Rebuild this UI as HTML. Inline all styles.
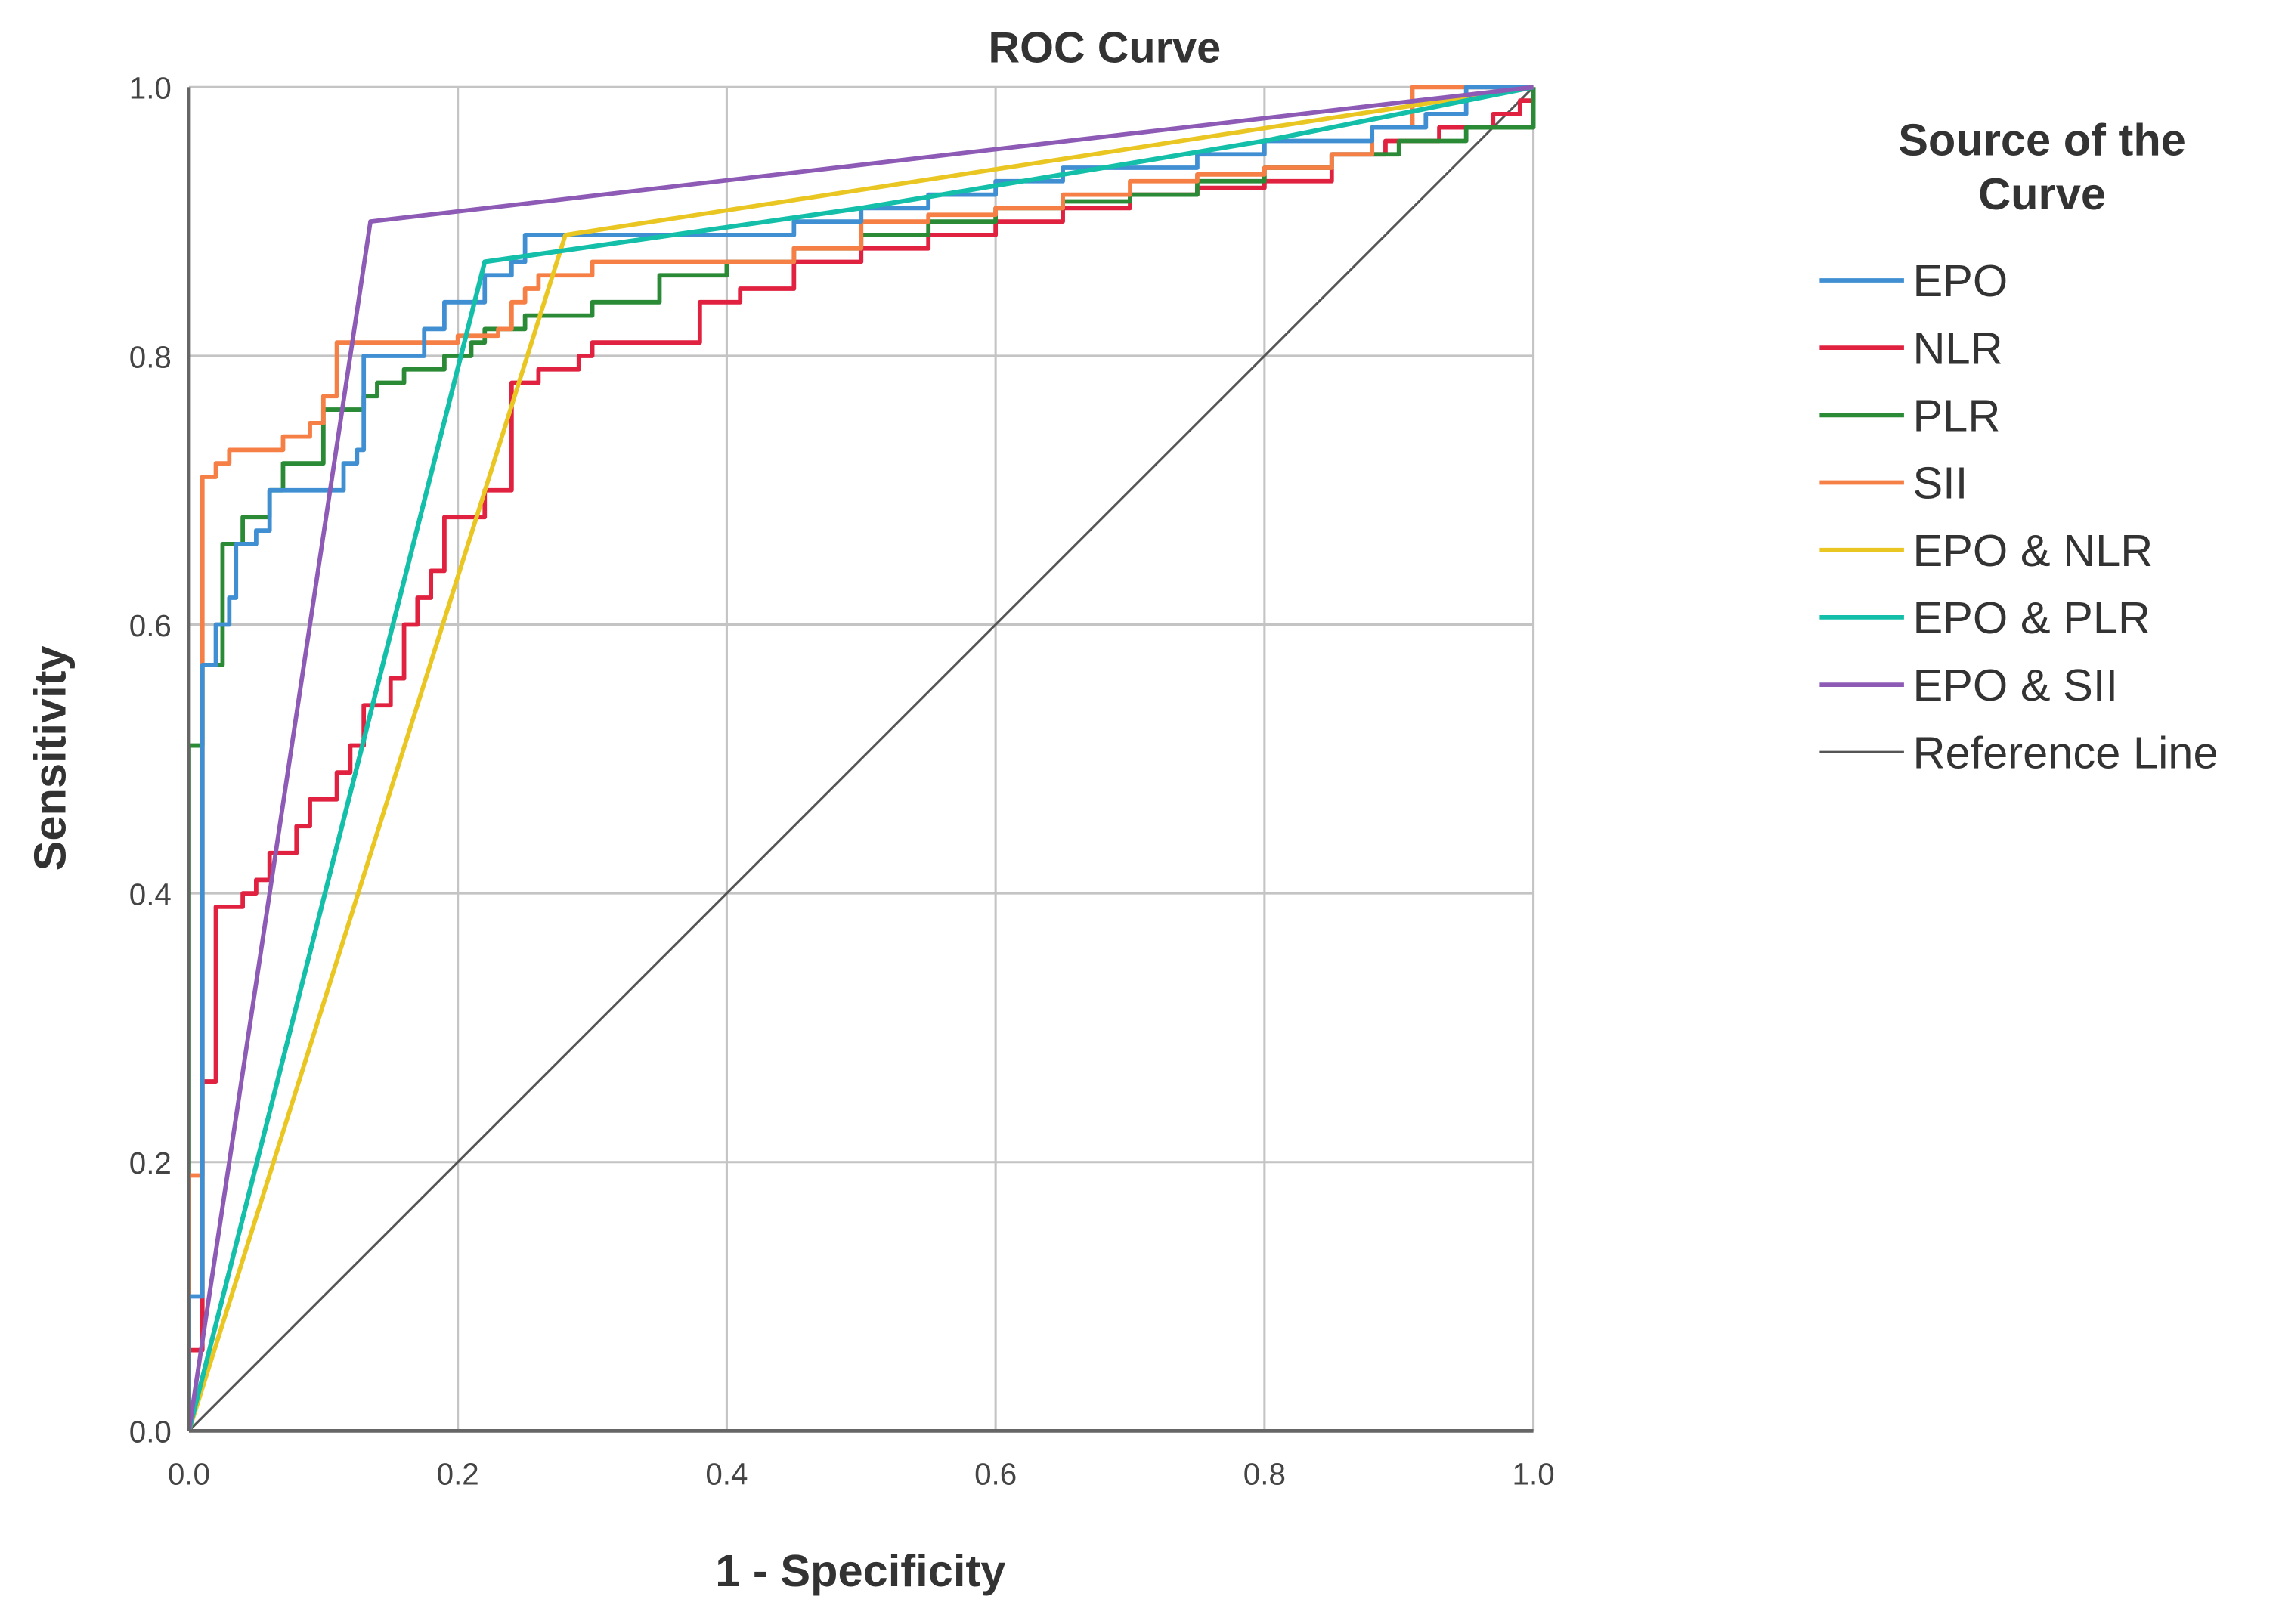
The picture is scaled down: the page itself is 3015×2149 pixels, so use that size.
<!DOCTYPE html>
<html><head><meta charset="utf-8"><style>
html,body{margin:0;padding:0;background:#fff;}
svg{display:block;font-family:"Liberation Sans",sans-serif;}
</style></head><body>
<svg id="chart" width="3015" height="2149" viewBox="0 0 1568 1118" preserveAspectRatio="none" xmlns="http://www.w3.org/2000/svg">
<text x="760" y="43" text-anchor="middle" font-size="30" font-weight="bold" fill="#333">ROC Curve</text>
<g id="grid"></g>
<g id="series"></g>
<g id="axes"></g>
<text transform="translate(45,522) rotate(-90)" text-anchor="middle" font-size="31" font-weight="bold" fill="#333">Sensitivity</text>
<text x="592" y="1092" text-anchor="middle" font-size="31" font-weight="bold" fill="#333">1 - Specificity</text>
<g id="legend">
<text x="1405" y="107" text-anchor="middle" font-size="31" font-weight="bold" fill="#333">Source of the</text>
<text x="1405" y="144" text-anchor="middle" font-size="31" font-weight="bold" fill="#333">Curve</text>
</g>
</svg>
<script>
const ticks = [0, 0.2, 0.4, 0.6, 0.8, 1.0];
const tickLabels = ["0.0","0.2","0.4","0.6","0.8","1.0"];
const seriesNames = ["EPO","NLR","PLR","SII","EPO & NLR","EPO & PLR","EPO & SII","Reference Line"];
const seriesColors = ["#3f8fd2","#e0213f","#2a8a35","#f57f45","#e9c621","#13bfa8","#8d5bb5","#555555"];
const epoX = [0,0,0.01,0.02,0.03,0.035,0.05,0.06,0.11,0.115,0.125,0.13,0.16,0.175,0.19,0.21,0.22,0.24,0.25,0.4,0.45,0.5,0.55,0.6,0.65,0.7,0.75,0.8,0.84,0.88,0.92,0.95,1];
const epoY = [0,0.1,0.57,0.6,0.62,0.66,0.67,0.7,0.7,0.72,0.73,0.8,0.8,0.82,0.84,0.84,0.86,0.87,0.89,0.89,0.9,0.91,0.92,0.93,0.94,0.94,0.95,0.96,0.96,0.97,0.98,1,1];
const nlrX = [0,0,0.01,0.01,0.02,0.02,0.04,0.05,0.06,0.08,0.09,0.11,0.12,0.13,0.15,0.16,0.17,0.18,0.19,0.21,0.22,0.24,0.26,0.29,0.3,0.38,0.38,0.41,0.45,0.5,0.55,0.6,0.65,0.7,0.75,0.8,0.85,0.89,0.93,0.97,0.99,1];
const nlrY = [0,0.06,0.06,0.26,0.26,0.39,0.4,0.41,0.43,0.45,0.47,0.49,0.51,0.54,0.56,0.6,0.62,0.64,0.68,0.68,0.7,0.78,0.79,0.8,0.81,0.81,0.84,0.85,0.87,0.88,0.89,0.9,0.91,0.92,0.925,0.93,0.95,0.96,0.97,0.98,0.99,1];
const plrX = [0,0,0.01,0.01,0.025,0.025,0.04,0.06,0.07,0.1,0.1,0.13,0.14,0.16,0.19,0.21,0.22,0.25,0.3,0.35,0.4,0.45,0.5,0.55,0.6,0.65,0.7,0.75,0.8,0.85,0.9,0.95,1];
const plrY = [0,0.51,0.51,0.57,0.57,0.66,0.68,0.7,0.72,0.73,0.76,0.77,0.78,0.79,0.8,0.81,0.82,0.83,0.84,0.86,0.87,0.88,0.89,0.9,0.91,0.915,0.92,0.93,0.94,0.95,0.96,0.97,1];
const siiX = [0,0,0.01,0.01,0.02,0.03,0.07,0.09,0.1,0.11,0.2,0.23,0.24,0.25,0.26,0.3,0.3,0.45,0.5,0.55,0.6,0.65,0.7,0.75,0.8,0.85,0.88,0.91,1];
const siiY = [0,0.19,0.57,0.71,0.72,0.73,0.74,0.75,0.77,0.81,0.815,0.82,0.84,0.85,0.86,0.86,0.87,0.88,0.9,0.905,0.91,0.92,0.93,0.935,0.94,0.95,0.97,1,1];
const epoNlrX = [0,0.28,1];
const epoNlrY = [0,0.89,1];
const epoPlrX = [0,0.22,0.5,0.8,1];
const epoPlrY = [0,0.87,0.91,0.96,1];
const epoSiiX = [0,0.135,1];
const epoSiiY = [0,0.9,1];
const refX = [0,1];
const refY = [0,1];

const X0=130, X1=1055, Y0=985, Y1=60;
const sx = v => X0 + v*(X1-X0);
const sy = v => Y0 - v*(Y0-Y1);
const NS="http://www.w3.org/2000/svg";
function mk(tag, attrs, parent){const e=document.createElementNS(NS,tag);for(const k in attrs)e.setAttribute(k,attrs[k]);parent.appendChild(e);return e;}

const grid=document.getElementById('grid');
const axes=document.getElementById('axes');
ticks.forEach((t,i)=>{
  const v=mk('line',{x1:sx(t),x2:sx(t),y1:Y1,y2:Y0,stroke:'#c4c4c4','stroke-width':1.6},grid);
  
  
  const h=mk('line',{x1:X0,x2:X1,y1:sy(t),y2:sy(t),stroke:'#c4c4c4','stroke-width':1.6},grid);
  
  
  const xl=mk('text',{x:sx(t),y:1022,'text-anchor':'middle','font-size':21,fill:'#444'},axes);
  xl.textContent=tickLabels[i];
  
  
  const yl=mk('text',{x:118,y:sy(t)+8,'text-anchor':'end','font-size':21,fill:'#444'},axes);
  yl.textContent=tickLabels[i];
  
  
});
const ax=mk('line',{x1:X0,x2:X1,y1:Y0,y2:Y0,stroke:'#666','stroke-width':2.5},axes);


const ay=mk('line',{x1:X0,x2:X0,y1:Y1,y2:Y0,stroke:'#666','stroke-width':2.5},axes);



function stepPath(xs,ys){let d='M'+sx(xs[0])+','+sy(ys[0]);for(let i=1;i<xs.length;i++){d+=' H'+sx(xs[i])+' V'+sy(ys[i]);}return d;}
function linePath(xs,ys){return xs.map((x,i)=>(i?'L':'M')+sx(x)+','+sy(ys[i])).join(' ');}
const ser=document.getElementById('series');
const defs=[
 ['reference-line',refX,refY,7,false,1.6],
 ['nlr-curve',nlrX,nlrY,1,true,3],
 ['plr-curve',plrX,plrY,2,true,3],
 ['sii-curve',siiX,siiY,3,true,3],
 ['epo-curve',epoX,epoY,0,true,3],
 ['epo-nlr-curve',epoNlrX,epoNlrY,4,false,3],
 ['epo-plr-curve',epoPlrX,epoPlrY,5,false,3.2],
 ['epo-sii-curve',epoSiiX,epoSiiY,6,false,3]
];
defs.forEach(d=>{
  const p=mk('path',{d:d[4]?stepPath(d[1],d[2]):linePath(d[1],d[2]),fill:'none',stroke:seriesColors[d[3]],'stroke-width':d[5],'stroke-linejoin':'round'},ser);
  
  
});

const leg=document.getElementById('legend');
seriesNames.forEach((n,i)=>{
  const y=193+i*46.4;
  const l=mk('line',{x1:1252,x2:1310,y1:y,y2:y,stroke:seriesColors[i],'stroke-width':i==7?1.8:3},leg);
  
  
  const t=mk('text',{x:1316,y:y+11,'font-size':31,fill:'#333'},leg);
  t.textContent=n;
  
  
});
</script>
</body></html>
